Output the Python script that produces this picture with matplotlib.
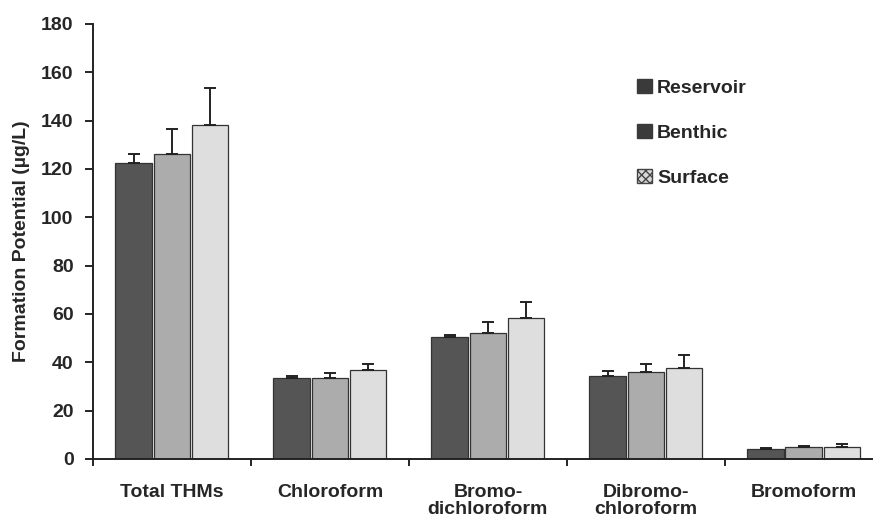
import matplotlib
matplotlib.use("Agg")
import matplotlib.pyplot as plt
from matplotlib.patches import Patch
import numpy as np

categories = ["Total THMs", "Chloroform", "Bromo-\ndichloroform", "Dibromo-\nchloroform", "Bromoform"]
series = ["Reservoir", "Benthic", "Surface"]
reservoir = [122.5, 33.5, 50.5, 34.5, 4.0]
benthic = [126.0, 33.5, 52.0, 36.0, 5.0]
surface = [138.0, 37.0, 58.5, 37.5, 4.8]
reservoir_err = [3.5, 1.0, 0.6, 2.0, 0.4]
benthic_err = [10.5, 2.0, 4.5, 3.5, 0.4]
surface_err = [15.5, 2.5, 6.5, 5.5, 1.2]
yticks = [0, 20, 40, 60, 80, 100, 120, 140, 160, 180]

plt.rcParams['font.family'] = ['Liberation Sans', 'DejaVu Sans']
FS = 14
TXT = "#262626"

fig = plt.figure(figsize=(8.77, 5.26), dpi=100)
ax = fig.add_axes([0.106, 0.1274, 0.888, 0.827])

x = np.arange(len(categories))
width = 0.232
colors = ["#555555", "#acacac", "#dedede"]
data = [reservoir, benthic, surface]
errs = [reservoir_err, benthic_err, surface_err]
offsets = [-0.242, 0.0, 0.242]

for vals, err, col, off in zip(data, errs, colors, offsets):
    ax.bar(x + off, vals, width, color=col, edgecolor="#333333", linewidth=0.9,
           yerr=[np.zeros(len(err)), err], capsize=4,
           error_kw=dict(ecolor="#222222", elinewidth=1.4, capthick=1.4), zorder=2)

ax.set_xlim(-0.5, 4.43)
ax.set_ylim(0, 180)
ax.set_yticks(yticks)
ax.set_yticklabels([str(t) for t in yticks], fontsize=FS, fontweight="bold", color=TXT)
ax.set_ylabel("Formation Potential (µg/L)", fontsize=FS, fontweight="bold", color=TXT, labelpad=8)

# category labels centred under groups, tick marks at group boundaries
ax.set_xticks(np.arange(-0.5, len(categories) - 0.5))
ax.set_xticklabels([""] * len(categories))
ax.set_xticks(x, minor=True)
ax.set_xticklabels(categories, minor=True, fontsize=FS, fontweight="bold", color=TXT,
                   linespacing=1.0)
ax.tick_params(axis="x", which="minor", length=0, pad=18)
ax.tick_params(axis="x", which="major", length=5, width=1.2, direction="out")
ax.tick_params(axis="y", length=6, width=1.2, direction="out", pad=8)

for s in ["top", "right"]:
    ax.spines[s].set_visible(False)
for s in ["left", "bottom"]:
    ax.spines[s].set_linewidth(1.4)
    ax.spines[s].set_color("#222222")

handles = [Patch(facecolor="#3a3a3a", edgecolor="#3a3a3a"),
           Patch(facecolor="#3a3a3a", edgecolor="#3a3a3a"),
           Patch(facecolor="#d8d8d8", edgecolor="#444444", hatch="xxxx")]
leg = ax.legend(handles, series, loc="upper left", bbox_to_anchor=(0.706, 0.884),
                bbox_transform=fig.transFigure,
                frameon=False, handlelength=0.8, handleheight=0.8, handletextpad=0.25,
                labelspacing=1.38, prop=dict(size=FS, weight="bold"))
for t in leg.get_texts():
    t.set_color(TXT)

fig.savefig("out.png", dpi=100)
